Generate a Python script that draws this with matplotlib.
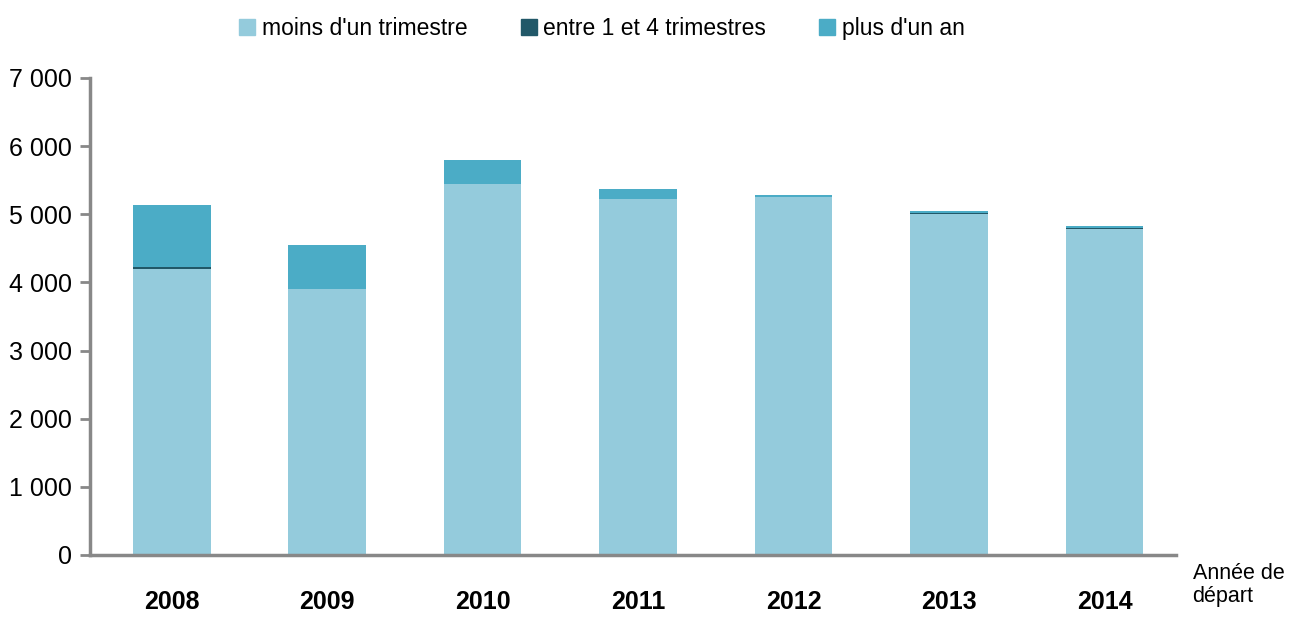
import matplotlib
matplotlib.use("Agg")
import matplotlib.pyplot as plt
from matplotlib.patches import Patch

plt.rcParams['font.family'] = ['Liberation Sans Narrow', 'Liberation Sans', 'DejaVu Sans']

years = ["2008", "2009", "2010", "2011", "2012", "2013", "2014"]
moins_trimestre = [4200, 3900, 5450, 5220, 5250, 5000, 4780]
entre_1_4 = [25, 5, 0, 0, 0, 25, 20]
plus_an = [910, 645, 340, 150, 35, 20, 25]
yticks = [0, 1000, 2000, 3000, 4000, 5000, 6000, 7000]
ytick_labels = ["0", "1 000", "2 000", "3 000", "4 000", "5 000", "6 000", "7 000"]

c_light = "#94CBDC"
c_dark = "#215868"
c_mid = "#4BACC6"

fig = plt.figure(figsize=(12.92, 6.17), dpi=100)
ax = fig.add_axes([0.0697, 0.1005, 0.8405, 0.7731])

x = list(range(len(years)))
w = 0.5
ax.bar(x, moins_trimestre, w, color=c_light, label="moins d'un trimestre")
b2 = [a for a in moins_trimestre]
ax.bar(x, entre_1_4, w, bottom=b2, color=c_dark, label="entre 1 et 4 trimestres")
b3 = [a + b for a, b in zip(moins_trimestre, entre_1_4)]
ax.bar(x, plus_an, w, bottom=b3, color=c_mid, label="plus d'un an")

ax.set_xlim(-0.525, len(years) - 0.54)
ax.set_ylim(0, 7000)
ax.set_yticks(yticks)
ax.set_yticklabels(ytick_labels, fontsize=18)
ax.set_xticks(x)
ax.set_xticklabels(years, fontsize=18, fontweight="bold")
ax.tick_params(axis="x", length=0, pad=25)
ax.tick_params(axis="y", length=7, width=2, color="#888888", pad=6, direction="out")
for s in ["top", "right"]:
    ax.spines[s].set_visible(False)
for s in ["left", "bottom"]:
    ax.spines[s].set_color("#888888")
    ax.spines[s].set_linewidth(2.5)

handles = [Patch(color=c_light), Patch(color=c_dark), Patch(color=c_mid)]
labels = ["moins d'un trimestre", "entre 1 et 4 trimestres", "plus d'un an"]
fig.legend(handles, labels, loc="center", bbox_to_anchor=(0.466, 0.954), ncol=3,
           frameon=False, fontsize=16.5, handlelength=0.7, handleheight=0.7,
           handletextpad=0.3, columnspacing=2.3)

fig.text(0.923, 0.088, "Année de\ndépart", fontsize=15.5, ha="left", va="top",
         linespacing=1.15)

fig.savefig("out.png", dpi=100)
